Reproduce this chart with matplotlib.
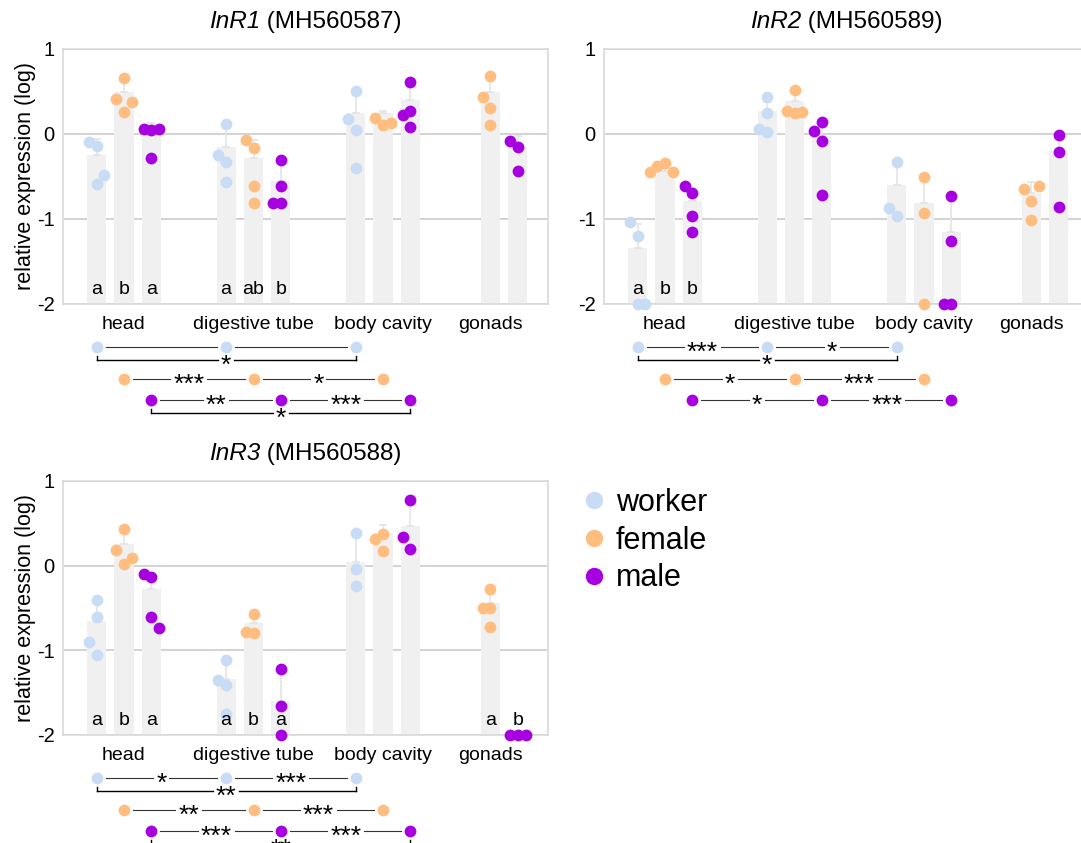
import matplotlib
matplotlib.use("Agg")
import matplotlib.pyplot as plt
from matplotlib.lines import Line2D
from matplotlib.transforms import offset_copy

plt.rcParams["font.family"] = ["Liberation Sans", "DejaVu Sans"]

# ============================================================
# Data (log relative expression)
# ============================================================

tissues = ["head", "digestive tube", "body cavity", "gonads"]
castes = ["worker", "female", "male"]

# individual samples per tissue: head, digestive tube, body cavity, gonads
inr1_worker = [[-0.14, -0.10, -0.59, -0.49], [0.12, -0.33, -0.57, -0.25], [0.51, 0.04, -0.40, 0.18], []]
inr1_female = [[0.66, 0.26, 0.41, 0.37], [-0.17, -0.61, -0.81, -0.07], [0.10, 0.19, 0.13], [0.68, 0.31, 0.11, 0.44]]
inr1_male = [[0.05, 0.055, 0.06, -0.28], [-0.31, -0.62, -0.82, -0.82], [0.61, 0.27, 0.08, 0.22], [-0.15, -0.09, -0.44]]

inr2_worker = [[-1.21, -1.04, -2.0, -2.0], [0.44, 0.25, 0.02, 0.06], [-0.33, -0.97, -0.88], []]
inr2_female = [[-0.34, -0.385, -0.455, -0.455], [0.52, 0.24, 0.27, 0.26], [-0.51, -0.93, -2.0], [-0.79, -0.65, -0.62, -1.02]]
inr2_male = [[-0.70, -0.62, -0.97, -1.16], [0.14, -0.08, 0.03, -0.72], [-0.73, -1.26, -2.0, -2.0], [-0.01, -0.21, -0.86]]

inr3_worker = [[-0.40, -0.61, -1.05, -0.90], [-1.11, -1.41, -1.75, -1.35], [0.39, -0.04, -0.24], []]
inr3_female = [[0.43, 0.02, 0.18, 0.09], [-0.57, -0.80, -0.78], [0.37, 0.17, 0.32], [-0.27, -0.50, -0.73, -0.50]]
inr3_male = [[-0.13, -0.10, -0.61, -0.74], [-1.22, -1.66, -2.0], [0.78, 0.20, 0.34], [-2.0, -2.0, -2.0]]

# bar heights (rows: worker, female, male) and upper error
inr1_mean = [[-0.25, -0.15, 0.25, None], [0.49, -0.28, 0.24, 0.49], [0.10, -0.56, 0.40, -0.16]]
inr1_err = [[0.19, 0.27, 0.26, 0], [0.17, 0.21, 0.03, 0.19], [0.03, 0.25, 0.21, 0.13]]
inr2_mean = [[-1.35, 0.27, -0.60, None], [-0.44, 0.39, -0.815, -0.70], [-0.79, -0.02, -1.16, -0.20]]
inr2_err = [[0.29, 0.11, 0.27, 0], [0.04, 0.12, 0.30, 0.13], [0.15, 0.16, 0.43, 0.18]]
inr3_mean = [[-0.65, -1.34, 0.04, None], [0.26, -0.68, 0.38, -0.44], [-0.28, -1.60, 0.47, -2.0]]
inr3_err = [[0.25, 0.22, 0.35, 0], [0.18, 0.11, 0.10, 0.18], [0.10, 0.38, 0.31, 0]]

inr1_letters = [["a", "a", "", ""], ["b", "ab", "", ""], ["a", "b", "", ""]]
inr2_letters = [["a", "", "", ""], ["b", "", "", ""], ["b", "", "", ""]]
inr3_letters = [["a", "a", "", ""], ["b", "b", "", "a"], ["a", "a", "", "b"]]

# significance between tissues: head-digestive, digestive-body cavity, head-body cavity
inr1_sig = [["", "", "*"], ["***", "*", None], ["**", "***", "*"]]
inr2_sig = [["***", "*", "*"], ["*", "***", None], ["*", "***", None]]
inr3_sig = [["*", "***", "**"], ["**", "***", None], ["***", "***", "**"]]

genes = ["InR1", "InR2", "InR3"]
accessions = ["MH560587", "MH560589", "MH560588"]

# ============================================================
# Style
# ============================================================

caste_colors = ["#c8dcf6", "#ffbe80", "#a600e0"]
bar_color = "#f0f0f0"
err_color = "#e4e4e4"
grid_color = "#cccccc"

W, H = 1081, 843
group_x = [0.0, 1.0, 2.0, 2.83]
caste_off = [-0.212, 0.0, 0.212]
bar_w = 0.147
XLIM = (-0.471, 3.274)

PT_SIZE = 72            # scatter marker area
SLOT = 7.7              # swarm step, px
CLASH = 15.0            # vertical distance (px) that counts as overlap
ROW_OFF = [43, 75, 96]  # sig rows below the axes, px
ROW_GAP = 9
STAR_FS = 19
TITLE_FS = 17.5

fig = plt.figure(figsize=(W / 100, H / 100), dpi=100)
renderer = fig.canvas.get_renderer()


def add_axes(left, top, width, height):
    return fig.add_axes([left / W, 1 - (top + height) / H, width / W, height / H])


def swarm(vals, px_per_x, px_per_y):
    slots = []
    for v in vals:
        k = 0
        while True:
            cands = [0] if k == 0 else sorted([-k, k], key=lambda s: slots.count(s))
            placed = None
            for s in cands:
                clash = any(sl == s and abs(v - vals[i]) * px_per_y < CLASH for i, sl in enumerate(slots))
                if not clash:
                    placed = s
                    break
            if placed is not None:
                slots.append(placed)
                break
            k += 1
    return [s * SLOT / px_per_x for s in slots]


def draw_title(ax, gene, acc):
    bb = ax.get_position()
    cx = (bb.x0 + bb.width / 2) * W
    base = (1 - bb.y1) * H - 21
    t1 = fig.text(0, 0, gene, style="italic", fontsize=TITLE_FS, va="baseline")
    t2 = fig.text(0, 0, " (" + acc + ")", fontsize=TITLE_FS, va="baseline")
    w1 = t1.get_window_extent(renderer).width
    w2 = t2.get_window_extent(renderer).width
    left = cx - (w1 + w2) / 2
    t1.set_position((left / W, 1 - base / H))
    t2.set_position(((left + w1) / W, 1 - base / H))


def draw_sig(ax, rows):
    bb = ax.get_position()
    ax_w = bb.width * W
    ax_h = bb.height * H
    px_x = (XLIM[1] - XLIM[0]) / ax_w
    trans = ax.get_xaxis_transform()
    star_trans = offset_copy(trans, fig=fig, y=-0.5 * STAR_FS, units="points")

    def hline(x0, x1, y, label, **kw):
        if label:
            half = (len(label) * 0.389 * STAR_FS * 100 / 72) / 2 + 3
            mid = (x0 + x1) / 2
            ax.plot([x0, mid - half * px_x], [y, y], transform=trans, clip_on=False, **kw)
            ax.plot([mid + half * px_x, x1], [y, y], transform=trans, clip_on=False, **kw)
            ax.text(mid, y, label, transform=star_trans, ha="center", va="baseline",
                    fontsize=STAR_FS, clip_on=False)
        else:
            ax.plot([x0, x1], [y, y], transform=trans, clip_on=False, **kw)

    for ci, labels in enumerate(rows):
        xs = [group_x[t] + caste_off[ci] for t in range(3)]
        y = -ROW_OFF[ci] / ax_h
        ax.scatter(xs, [y] * 3, s=PT_SIZE, color=caste_colors[ci], transform=trans,
                   clip_on=False, zorder=5, linewidths=0)
        for j in range(2):
            hline(xs[j] + ROW_GAP * px_x, xs[j + 1] - ROW_GAP * px_x, y, labels[j],
                  color="#333333", lw=0.8)
        if labels[2] is not None:
            y0 = -(ROW_OFF[ci] + 9) / ax_h
            y1 = -(ROW_OFF[ci] + 13) / ax_h
            for xx in (xs[0], xs[2]):
                ax.plot([xx, xx], [y0, y1], transform=trans, clip_on=False, color="black", lw=1.0)
            hline(xs[0], xs[2], y1, labels[2], color="black", lw=1.0)


def draw_panel(ax, pts, means, errs, letters, sig, gene, acc, ylabel):
    ax.set_xlim(*XLIM)
    ax.set_ylim(-2, 1)
    bb = ax.get_position()
    px_per_x = bb.width * W / (XLIM[1] - XLIM[0])
    px_per_y = bb.height * H / 3.0

    for ci in range(3):
        for t in range(4):
            x = group_x[t] + caste_off[ci]
            m = means[ci][t]
            if m is not None:
                ax.bar(x, m + 2, bottom=-2, width=bar_w, color=bar_color, zorder=1)
                if errs[ci][t] > 0:
                    ax.errorbar(x, m, yerr=[[0], [errs[ci][t]]], color=err_color, lw=1.2,
                                capsize=3, capthick=1.2, zorder=2)
            vals = pts[ci][t]
            if vals:
                offs = swarm(vals, px_per_x, px_per_y)
                ax.scatter([x + o for o in offs], vals, s=PT_SIZE, color=caste_colors[ci],
                           zorder=4, clip_on=False, linewidths=0)
            if letters[ci][t]:
                ax.text(x, -1.83, letters[ci][t], ha="center", va="center", fontsize=14, zorder=6)

    ax.set_yticks([-2, -1, 0, 1])
    ax.set_yticklabels(["-2", "-1", "0", "1"])
    ax.set_xticks(group_x)
    ax.set_xticklabels(tissues)
    ax.tick_params(axis="y", length=0, labelsize=14.5, pad=6)
    ax.tick_params(axis="x", length=0, labelsize=14, pad=9)
    ax.yaxis.grid(True, color=grid_color, lw=1.2)
    ax.set_axisbelow(True)
    for sp in ax.spines.values():
        sp.set_color("#d9d9d9")
        sp.set_linewidth(1.2)
    draw_title(ax, gene, acc)
    if ylabel:
        ax.set_ylabel("relative expression (log)", fontsize=15.5, labelpad=1)
    draw_sig(ax, sig)


ax1 = add_axes(63, 49, 485, 254.5)
ax2 = add_axes(604, 49, 485, 254.5)
ax3 = add_axes(63, 481, 485, 254)

draw_panel(ax1, [inr1_worker, inr1_female, inr1_male], inr1_mean, inr1_err, inr1_letters, inr1_sig,
           genes[0], accessions[0], True)
draw_panel(ax2, [inr2_worker, inr2_female, inr2_male], inr2_mean, inr2_err, inr2_letters, inr2_sig,
           genes[1], accessions[1], False)
draw_panel(ax3, [inr3_worker, inr3_female, inr3_male], inr3_mean, inr3_err, inr3_letters, inr3_sig,
           genes[2], accessions[2], True)

handles = [Line2D([], [], marker="o", ls="", color=c, markersize=12.5, markeredgewidth=0) for c in caste_colors]
fig.legend(handles, castes, loc="upper left", bbox_to_anchor=(579 / W, 1 - 488 / H),
           frameon=False, fontsize=22, handlelength=0.95, handletextpad=0.25,
           labelspacing=0.25, borderpad=0, borderaxespad=0)

fig.savefig("out.png", dpi=100)
